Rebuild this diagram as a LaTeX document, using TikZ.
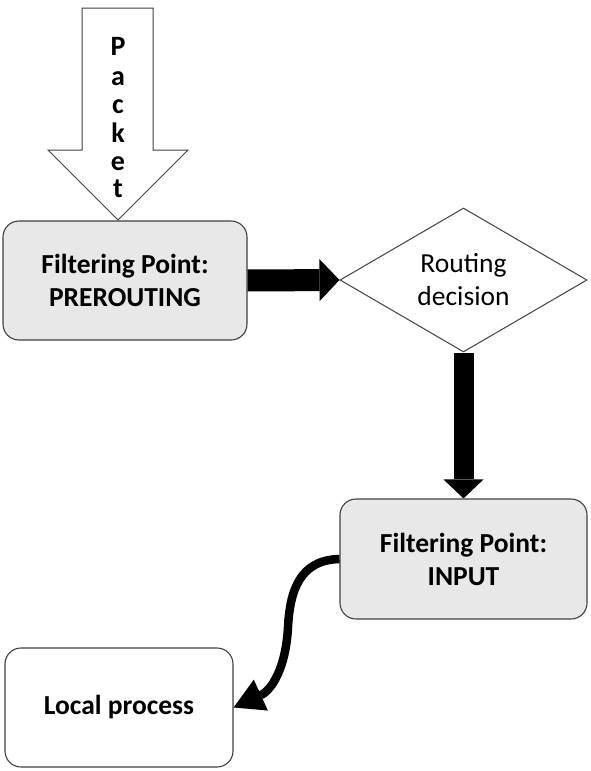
\documentclass[tikz,border=0pt]{standalone}
\usepackage{fontspec}
\setmainfont{Carlito}
\usetikzlibrary{arrows.meta,shapes.geometric}
\definecolor{boxgray}{RGB}{232,232,232}
\definecolor{edgegray}{RGB}{64,64,64}
\tikzset{
  procbox/.style={draw=edgegray, line width=1.1pt, rounded corners=16pt, align=center, inner sep=0pt,
    font=\fontsize{27.5}{33}\selectfont\bfseries},
  graybox/.style={procbox, fill=boxgray},
  decbox/.style={draw=edgegray, line width=1pt, diamond, aspect=1.715, inner sep=0pt, align=center,
    font=\fontsize{27.5}{33}\selectfont},
  bigflow/.style={line width=#1, draw=black},
  letter/.style={font=\fontsize{28}{30}\selectfont\bfseries, anchor=base, inner sep=0pt},
}
\begin{document}
\begin{tikzpicture}[x=1pt,y=-1pt]
\useasboundingbox (0,0) rectangle (590,771);
% nodes
\node[graybox, minimum width=244pt, minimum height=119pt] (pre) at (125,280.5) {Filtering Point:\\PREROUTING};
\node[decbox, minimum width=247pt, minimum height=144pt] (dec) at (463.5,280) {Routing\\decision};
\node[graybox, minimum width=247pt, minimum height=120pt] (inp) at (463.5,559) {Filtering Point:\\INPUT};
\node[procbox, fill=white, minimum width=228pt, minimum height=119pt] (loc) at (119,707.5) {Local process};
% hollow packet arrow
\draw[draw=edgegray, line width=1pt, fill=white, line join=miter]
  (82,8) -- (153,8) -- (153,150) -- (188,150) -- (118,220) -- (48,150) -- (82,150) -- cycle;
\node[letter] (p1) at (118,55) {P};
\node[letter] (p2) at (118,85) {a};
\node[letter] (p3) at (118,113) {c};
\node[letter] (p4) at (118,142) {k};
\node[letter] (p5) at (118,170) {e};
\node[letter] (p6) at (118,197) {t};
% connectors
\draw[bigflow=22pt, -{Triangle[length=20pt,width=42pt,line width=0pt]}] (pre.east) -- (dec.west);
\draw[bigflow=20pt, -{Triangle[length=19pt,width=40pt,line width=0pt]}] (dec.south) -- (inp.north);
\draw[line width=8.5pt, -{Triangle[length=30pt,width=34pt,line width=0pt]}]
  (inp.west) .. controls (300,560) and (290,590) .. (288,627)
  .. controls (286,667) and (272,690) .. (loc.east);
\end{tikzpicture}
\end{document}
